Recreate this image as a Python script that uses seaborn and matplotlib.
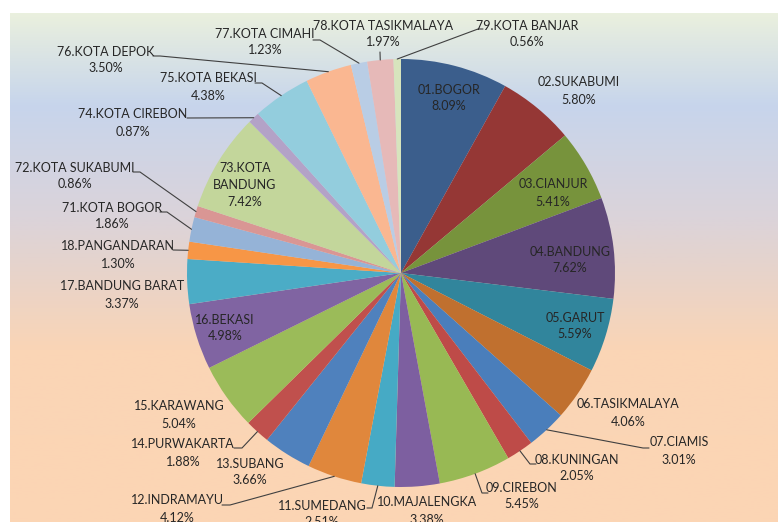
import numpy as np
import matplotlib
matplotlib.use("Agg")
import matplotlib.pyplot as plt
from matplotlib.colors import LinearSegmentedColormap
import seaborn as sns

# persentase per kabupaten/kota
kode = ['01', '02', '03', '04', '05', '06', '07', '08', '09', '10', '11', '12', '13',
        '14', '15', '16', '17', '18', '71', '72', '73', '74', '75', '76', '77', '78', '79']
nama = ['BOGOR', 'SUKABUMI', 'CIANJUR', 'BANDUNG', 'GARUT', 'TASIKMALAYA', 'CIAMIS',
        'KUNINGAN', 'CIREBON', 'MAJALENGKA', 'SUMEDANG', 'INDRAMAYU', 'SUBANG',
        'PURWAKARTA', 'KARAWANG', 'BEKASI', 'BANDUNG BARAT', 'PANGANDARAN',
        'KOTA BOGOR', 'KOTA SUKABUMI', 'KOTA BANDUNG', 'KOTA CIREBON', 'KOTA BEKASI',
        'KOTA DEPOK', 'KOTA CIMAHI', 'KOTA TASIKMALAYA', 'KOTA BANJAR']
persen = [8.09, 5.80, 5.41, 7.62, 5.59, 4.06, 3.01, 2.05, 5.45, 3.38, 2.51, 4.12, 3.66,
          1.88, 5.04, 4.98, 3.37, 1.30, 1.86, 0.86, 7.42, 0.87, 4.38, 3.50, 1.23, 1.97, 0.56]

# warna ala excel
warna = sns.color_palette([
    '#3b5e8c', '#953735', '#77933c', '#5f497a', '#31859c', '#c0702f', '#4a7ebb',
    '#be4b48', '#98b954', '#7d5fa0', '#46aac5', '#e0873c', '#4f81bd', '#c0504d',
    '#9bbb59', '#8064a2', '#4bacc6', '#f79646', '#95b3d7', '#d99694', '#c3d69b',
    '#b3a2c7', '#93cddd', '#fab791', '#b9cde5', '#e6b9b8', '#d7e4bd'])

# posisi label (pixel, dari atas-kiri)
pos_label = {
    '01': (449, 98), '02': (579, 91), '03': (553, 193), '04': (570, 260),
    '05': (575, 326), '06': (628, 413), '07': (679, 451), '08': (577, 468),
    '09': (522, 496), '10': (427, 511), '11': (322, 514), '12': (177, 509),
    '13': (250, 472), '14': (183, 453), '15': (179, 415), '16': (225, 328),
    '17': (122, 295), '18': (118, 255), '71': (112, 216), '72': (75, 176),
    '73': (245, 185), '74': (133, 123), '75': (208, 87), '76': (106, 60),
    '77': (265, 42), '78': (383, 34), '79': (527, 34),
}
# garis penunjuk: titik di sisi teks, ujungnya di tepi pie
leader = {
    '07': [(649, 448), (643, 448)],
    '08': [(536, 464), (530, 464)],
    '09': [(488, 493), (482, 493)],
    '11': [(367, 508), (372, 508)],
    '12': [(222, 505), (230, 505)],
    '14': [(234, 448), (242, 448)],
    '18': [(173, 250)],
    '71': [(160, 212), (167, 212)],
    '72': [(133, 172), (140, 172)],
    '74': [(187, 118)],
    '75': [(255, 83), (262, 83)],
    '76': [(153, 56), (160, 56)],
    '77': [(313, 40), (320, 40)],
    '78': [(380, 52)],
    '79': [(483, 29), (478, 29)],
}

sns.set_theme(style="white")
plt.rcParams['font.family'] = ['Lato', 'DejaVu Sans']

W, H = 778, 522
fig = plt.figure(figsize=(W / 100, H / 100), dpi=100, facecolor='white')
ax = fig.add_axes([0, 0, 1, 1])

# latar gradasi
cmap = LinearSegmentedColormap.from_list('bg', [
    (0.0, '#eaf0de'), (0.18, '#c7d5ec'), (0.40, '#dbd3da'), (0.50, '#e6d3cc'),
    (0.66, '#fad5b6'), (1.0, '#fcd5b4')])
grad = np.linspace(0, 1, 256).reshape(-1, 1)
ax.imshow(grad, extent=[10, W, H, 13], aspect='auto', cmap=cmap, zorder=0)

cx, cy, R = 401, 273, 214
wedges, _ = ax.pie(persen, colors=warna, startangle=-90, counterclock=True,
                   center=(cx, cy), radius=R, frame=True,
                   wedgeprops=dict(linewidth=0))
for w in wedges:
    w.set_zorder(2)

for i, k in enumerate(kode):
    if k == '73':
        teks = '73.KOTA\nBANDUNG\n%.2f%%' % persen[i]
    else:
        teks = '%s.%s\n%.2f%%' % (k, nama[i], persen[i])
    x, y = pos_label[k]
    ax.text(x, y, teks, ha='center', va='center', fontsize=9,
            color='#262626', linespacing=1.5, zorder=4)
    if k in leader:
        w = wedges[i]
        mid = np.deg2rad((w.theta1 + w.theta2) / 2)
        ex, ey = cx + R * np.cos(mid), cy + R * np.sin(mid)
        pts = leader[k] + [(ex, ey)]
        ax.plot([p[0] for p in pts], [p[1] for p in pts], color='#404040',
                lw=0.8, zorder=3)

ax.set_xlim(0, W)
ax.set_ylim(H, 0)
ax.set_aspect('auto')
ax.axis('off')

fig.savefig('out.png', dpi=100, facecolor='white')
